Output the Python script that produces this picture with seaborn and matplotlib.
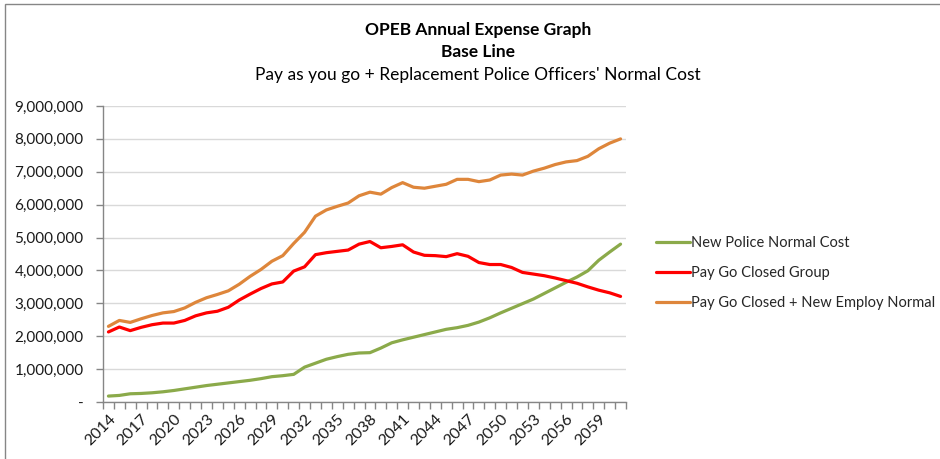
import numpy as np
import pandas as pd
import matplotlib
matplotlib.use("Agg")
import matplotlib.pyplot as plt
import seaborn as sns
from matplotlib.patches import Rectangle

years = list(range(2014, 2062))

new_police_normal_cost = [
    0.18, 0.20, 0.25, 0.26, 0.28, 0.31, 0.35, 0.40, 0.45, 0.50,
    0.54, 0.58, 0.62, 0.66, 0.71, 0.77, 0.80, 0.84, 1.06, 1.18,
    1.30, 1.38, 1.45, 1.49, 1.50, 1.64, 1.80, 1.89, 1.97, 2.05,
    2.13, 2.21, 2.26, 2.33, 2.43, 2.56, 2.71, 2.85, 2.99, 3.13,
    3.30, 3.47, 3.64, 3.80, 3.99, 4.31, 4.56, 4.80,
]
pay_go_closed_group = [
    2.13, 2.28, 2.17, 2.27, 2.35, 2.40, 2.40, 2.48, 2.62, 2.71,
    2.76, 2.88, 3.10, 3.28, 3.45, 3.59, 3.65, 3.98, 4.11, 4.48,
    4.54, 4.58, 4.62, 4.80, 4.88, 4.69, 4.73, 4.78, 4.56, 4.46,
    4.45, 4.42, 4.51, 4.43, 4.24, 4.18, 4.18, 4.09, 3.94, 3.89,
    3.84, 3.77, 3.69, 3.61, 3.50, 3.40, 3.32, 3.21,
]
pay_go_closed_plus_new = [
    2.30, 2.48, 2.42, 2.53, 2.63, 2.71, 2.75, 2.86, 3.03, 3.17,
    3.27, 3.38, 3.58, 3.82, 4.03, 4.28, 4.45, 4.82, 5.16, 5.65,
    5.84, 5.95, 6.05, 6.27, 6.38, 6.32, 6.52, 6.67, 6.53, 6.50,
    6.56, 6.62, 6.77, 6.77, 6.70, 6.75, 6.90, 6.93, 6.90, 7.02,
    7.11, 7.22, 7.30, 7.34, 7.47, 7.70, 7.87, 8.00,
]

series_names = [
    "New Police Normal Cost",
    "Pay Go Closed Group",
    "Pay Go Closed + New Employ Normal",
]
series_colors = ["#8BAA4A", "#FF0000", "#DE863B"]

y_ticks = [0, 1e6, 2e6, 3e6, 4e6, 5e6, 6e6, 7e6, 8e6, 9e6]
y_tick_labels = ["-", "1,000,000", "2,000,000", "3,000,000", "4,000,000",
                 "5,000,000", "6,000,000", "7,000,000", "8,000,000", "9,000,000"]

# Long-form table for seaborn (values in dollars)
frames = []
for name, vals in zip(series_names, [new_police_normal_cost,
                                     pay_go_closed_group,
                                     pay_go_closed_plus_new]):
    frames.append(pd.DataFrame({
        "pos": np.arange(len(years)),
        "value": np.array(vals) * 1e6,
        "series": name,
    }))
df = pd.concat(frames, ignore_index=True)

sns.set_theme(style="white")
plt.rcParams["font.family"] = ["Lato", "DejaVu Sans"]

fig = plt.figure(figsize=(9.4, 4.59), dpi=100)
ax = fig.add_axes([103 / 940, 1 - 402 / 459, (626 - 103) / 940, (402 - 106) / 459])

sns.lineplot(data=df, x="pos", y="value", hue="series", hue_order=series_names,
             palette=series_colors, linewidth=2.3, ax=ax, legend=True)

ax.set_xlim(-0.5, len(years) - 0.5)
ax.set_ylim(0, 9e6)
ax.set_xlabel("")
ax.set_ylabel("")

# y axis
ax.set_yticks(y_ticks)
ax.set_yticklabels(y_tick_labels, fontsize=11, color="#1a1a1a")
ax.yaxis.grid(True, color="#d9d9d9", linewidth=1)
ax.xaxis.grid(False)
ax.tick_params(axis="y", which="major", length=5, width=1, color="#868686",
               direction="out", pad=9, left=True)

# x axis: labels every third year, tick marks between categories
label_pos = list(range(0, len(years), 3))
ax.set_xticks(label_pos)
ax.set_xticklabels([str(years[i]) for i in label_pos], rotation=45,
                   ha="right", va="top", rotation_mode="anchor",
                   fontsize=11.5, color="#1a1a1a")
ax.set_xticks(np.arange(-0.5, len(years), 1.0), minor=True)
ax.tick_params(axis="x", which="major", length=0, pad=7)
ax.tick_params(axis="x", which="minor", length=5, width=1, color="#868686",
               direction="out", bottom=True)

for side in ["top", "right"]:
    ax.spines[side].set_visible(False)
for side in ["left", "bottom"]:
    ax.spines[side].set_color("#868686")
    ax.spines[side].set_linewidth(1)

# Legend at the right of the plot
handles, labels = ax.get_legend_handles_labels()
ax.legend(handles, labels, loc="center left",
          bbox_to_anchor=(656 / 940, 1 - 273 / 459),
          bbox_transform=fig.transFigure, frameon=False, fontsize=10.5,
          handlelength=2.3, handletextpad=0.1, labelspacing=1.1,
          borderaxespad=0, borderpad=0)

# Titles
fig.text(478 / 940, 1 - 30 / 459, "OPEB Annual Expense Graph", ha="center",
         va="center", fontsize=12.5, fontweight="bold", color="#000000")
fig.text(478 / 940, 1 - 52 / 459, "Base Line", ha="center",
         va="center", fontsize=12.5, fontweight="bold", color="#000000")
fig.text(478 / 940, 1 - 75 / 459,
         "Pay as you go + Replacement Police Officers' Normal Cost",
         ha="center", va="center", fontsize=12.5, color="#000000")

# Chart area border
fig.patches.append(Rectangle((5 / 940, -0.05), 1.0, 1 - 4 / 459 + 0.05,
                             transform=fig.transFigure, fill=False,
                             edgecolor="#868686", linewidth=1))

fig.savefig("out.png", dpi=100)
